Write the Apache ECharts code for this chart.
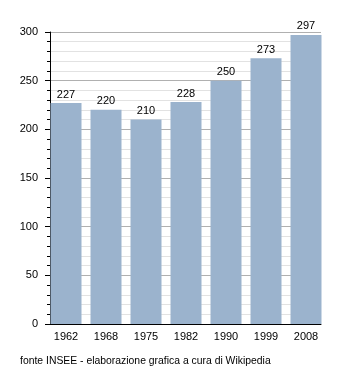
<!DOCTYPE html>
<html>
<head>
<meta charset="utf-8">
<script src="https://cdn.jsdelivr.net/npm/echarts@6/dist/echarts.min.js"></script>
<style>
html,body{margin:0;padding:0;background:#fff;}
#c{width:350px;height:373px;}
</style>
</head>
<body>
<div id="c"></div>
<script>
const years = ['1962','1968','1975','1982','1990','1999','2008'];
const population = [227, 220, 210, 228, 250, 273, 297];
const yTicks = [0, 50, 100, 150, 200, 250, 300];
const sourceNote = 'fonte INSEE - elaborazione grafica a cura di Wikipedia';

const FONT = 'Liberation Sans, Arial, sans-serif';
const yMin = yTicks[0], yMax = yTicks[yTicks.length - 1];

const chart = echarts.init(document.getElementById('c'), null, {renderer: 'canvas'});
chart.setOption({
  animation: false,
  backgroundColor: '#ffffff',
  textStyle: {fontFamily: FONT},
  grid: [
    {left: 46, right: 24, top: 32, bottom: 49},   // bars
    {left: 50, right: 29, top: 32, bottom: 49}    // axes & gridlines
  ],
  graphic: [{
    type: 'text', left: 20, top: 356,
    style: {text: sourceNote, fontSize: 10.4, fill: '#000', fontFamily: FONT}
  }],
  xAxis: [{
    type: 'category', gridIndex: 0,
    data: years,
    axisLine: {show: false},
    axisTick: {show: false},
    axisLabel: {color: '#000', fontSize: 11, margin: 7},
    splitLine: {show: false}
  }, {
    type: 'category', gridIndex: 1,
    data: years,
    axisLine: {show: true, lineStyle: {color: '#000', width: 1}},
    axisTick: {show: false},
    axisLabel: {show: false},
    splitLine: {show: false}
  }],
  yAxis: [{
    type: 'value', gridIndex: 0,
    min: yMin, max: yMax, interval: 50,
    axisLine: {show: false}, axisTick: {show: false},
    axisLabel: {show: false}, splitLine: {show: false}
  }, {
    type: 'value', gridIndex: 1,
    min: yMin, max: yMax, interval: 50,
    axisLine: {show: true, lineStyle: {color: '#000', width: 1}},
    axisTick: {show: true, length: 5, lineStyle: {color: '#000'}},
    minorTick: {show: true, splitNumber: 5, length: 3, lineStyle: {color: '#000'}},
    axisLabel: {color: '#000', fontSize: 11, margin: 12},
    splitLine: {show: true, lineStyle: {color: '#b0b0b0', width: 1}},
    minorSplitLine: {show: true, lineStyle: {color: '#e2e2e2', width: 1}}
  }],
  series: [{
    type: 'bar',
    xAxisIndex: 0, yAxisIndex: 0,
    data: population,
    barWidth: 31,
    itemStyle: {color: '#9bb3cd'},
    label: {show: true, position: 'top', color: '#000', fontSize: 11, distance: 3}
  }]
});
</script>
</body>
</html>
